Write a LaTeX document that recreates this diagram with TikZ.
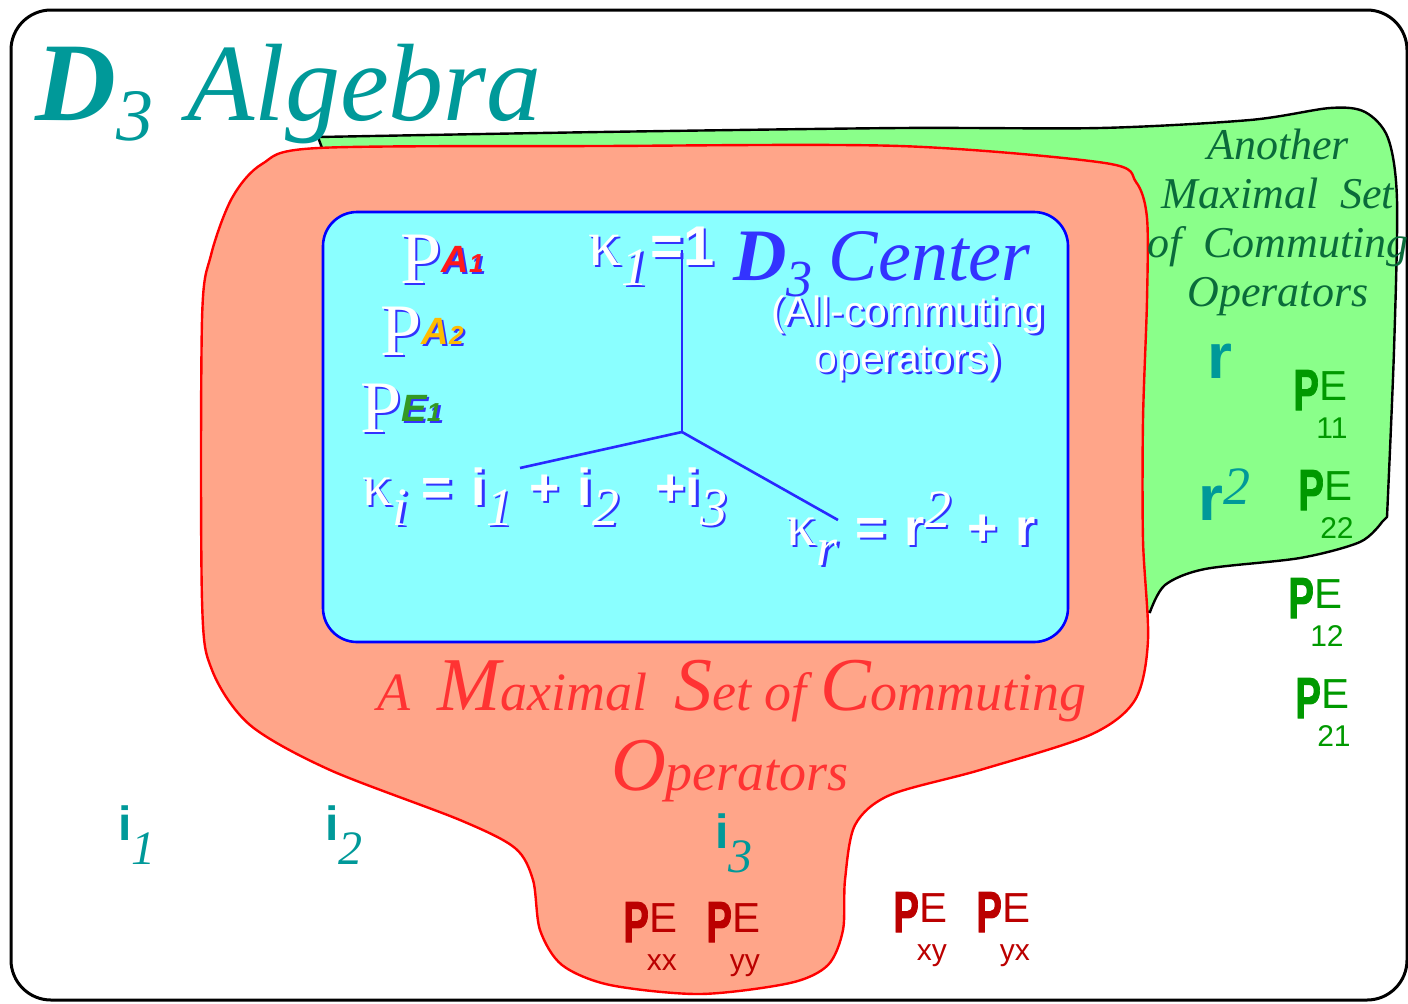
\documentclass[tikz,border=0pt]{standalone}
\usepackage{fontspec}
\setmainfont{Liberation Serif}
\setsansfont{Liberation Sans}
\newfontfamily\heavyP[FakeBold=1.8]{Liberation Sans Bold}
\usepackage{graphicx}
\definecolor{salmonfill}{HTML}{FFA589}
\definecolor{greenfill}{HTML}{8AFF8A}
\definecolor{cyanfill}{HTML}{8AFFFF}
\definecolor{tealtxt}{HTML}{009999}
\definecolor{setgreen}{HTML}{0A6B3A}
\definecolor{pegreen}{HTML}{009900}
\definecolor{pered}{HTML}{BB0000}
\definecolor{setred}{HTML}{FF3333}
\definecolor{centerblue}{HTML}{3333FF}
\definecolor{shadeblue}{HTML}{3333FF}
\definecolor{irrepA}{HTML}{FF1A1A}
\definecolor{irrepB}{HTML}{FFBB00}
\definecolor{irrepE}{HTML}{339922}
\newcommand{\Sz}[1]{\fontsize{#1}{#1}\selectfont}
% white text with a blue drop shadow
\newcommand{\Shd}[2][white]{\rlap{\kern1.2pt\raisebox{-1.2pt}{\color{shadeblue}#2}}{\color{#1}#2}}
\newcommand{\Sb}[1]{\raisebox{-10pt}{\Shd{\Sz{27}\itshape #1}}}
\newcommand{\PE}[1]{{\sffamily\scalebox{0.66}[1]{\heavyP\Sz{29}P}\kern0.5pt\raisebox{5pt}{\Sz{21}E}\llap{\makebox[16pt][c]{\raisebox{-14pt}{\Sz{15}#1}}}}}
\newcommand{\Ii}[1]{{\sffamily\bfseries\Sz{24}i}\raisebox{-12pt}{\Sz{24}\itshape #1}}

\begin{document}
\begin{tikzpicture}[x=0.5pt,y=-0.5pt,
  lbl/.style={anchor=base west,inner sep=0pt},
  spoke/.style={centerblue!80!blue,line width=1.3pt}]
\useasboundingbox (0,0) rectangle (1408,1003);
\draw[line width=1.5pt,rounded corners=20pt] (11,10) rectangle (1407,1000);
% the other maximal set, mostly hidden behind the red one
\draw[fill=greenfill,line width=1.2pt]
  plot[smooth] coordinates {(318,137) (600,132) (900,128) (1100,128) (1250,120) (1330,108) (1365,112) (1388,138) (1397,200) (1394,350) (1387,517)}
  -- (1382,522)
  -- plot[smooth] coordinates {(1382,522) (1360,542) (1300,558) (1205,569) (1165,585) (1150,612)}
  -- (1000,600) -- (330,170) -- cycle;
\draw[fill=salmonfill,draw=red,line width=1.2pt]
  plot[smooth cycle] coordinates {(318,148) (600,146) (900,146) (1105,163) (1136,182) (1147,218) (1147,300) (1143,420) (1143,540) (1148,640) (1135,700) (1090,735) (980,770) (890,795) (855,825) (845,880) (843,930) (828,965) (790,983) (700,994) (610,985) (562,965) (540,930) (533,880) (515,848) (460,820) (330,770) (250,725) (212,670) (202,600) (202,320) (211,255) (232,198) (262,164)};
\draw[fill=cyanfill,draw=blue,line width=1.3pt,rounded corners=17pt] (323,212) rectangle (1068,642);
\coordinate (ktop) at (682,250);
\coordinate (hub) at (682,432);
\coordinate (kiend) at (520,468);
\coordinate (krend) at (838,520);
\draw[spoke] (ktop) -- (hub);
\draw[spoke] (hub) -- (kiend);
\draw[spoke] (hub) -- (krend);

\node[lbl,text=tealtxt] (title) at (35,120) {{\Sz{56}\bfseries\itshape D}\raisebox{-10pt}{\Sz{37}\itshape 3}\hspace{17pt}{\Sz{55}\itshape Algebra}};
\node[lbl,text=centerblue] (center) at (733,280) {{\Sz{37}\bfseries\itshape D}\raisebox{-8pt}{\Sz{26}\itshape 3}\hspace{8pt}{\Sz{37}\itshape Center}};
\node[anchor=north,inner sep=0pt,align=center,font=\sffamily\fontsize{20.5}{23.5}\selectfont] (allcomm) at (908,295) {\Shd{(All-commuting}\\\Shd{operators)}};
\node[lbl] (pa1) at (400,283) {\Shd{\Sz{37}P}\raisebox{5.5pt}{\Shd[irrepA]{\sffamily\bfseries\itshape\Sz{19}A\Sz{13}1}}};
\node[lbl] (pa2) at (380,355) {\Shd{\Sz{37}P}\raisebox{5.5pt}{\Shd[irrepB]{\sffamily\bfseries\itshape\Sz{19}A\Sz{13}2}}};
\node[lbl] (pe1) at (360,432) {\Shd{\Sz{37}P}\raisebox{5.5pt}{\Shd[irrepE]{\sffamily\bfseries\itshape\Sz{19}E\Sz{13}1}}};
\node[lbl] (kone) at (588,265) {\Shd{\Sz{33}κ}\Sb{1}\hspace{1pt}\Shd{\sffamily\bfseries\Sz{28}=1}};
\node[lbl] (kclass) at (362,505) {\Shd{\Sz{30}κ}\Sb{i}\hspace{7pt}\Shd{\sffamily\bfseries\Sz{26}=\hspace{10pt}i}\Sb{1}\hspace{8pt}\Shd{\sffamily\bfseries\Sz{26}+\hspace{9pt}i}\Sb{2}\hspace{18pt}\Shd{\sffamily\bfseries\Sz{26}+i}\Sb{3}};
\node[lbl] (krot) at (786,545) {\Shd{\Sz{30}κ}\Sb{r}\hspace{9pt}\Shd{\sffamily\bfseries\Sz{26}=\hspace{9pt}r}\raisebox{9pt}{\Shd{\Sz{27}\itshape 2}}\hspace{8pt}\Shd{\sffamily\bfseries\Sz{26}+\hspace{9pt}r}};

\node[anchor=base,inner sep=0pt,text=setred,font=\itshape\Sz{27}] (redset) at (732,710) {A\ \ {\Sz{38}M}aximal\ \ {\Sz{38}S}et of\ {\Sz{38}C}ommuting};
\node[anchor=base,inner sep=0pt,text=setred,font=\itshape\Sz{27}] (redops) at (730,790) {{\Sz{38}O}perators};
\node[anchor=north,inner sep=0pt,align=center,text=setgreen,font=\itshape\fontsize{22}{24.5}\selectfont] (greenset) at (1278,129) {Another\\Maximal\ \ Set\\of\ \ Commuting\\Operators};

\node[lbl,text=tealtxt] (ione) at (118,840) {\Ii{1}};
\node[lbl,text=tealtxt] (itwo) at (325,840) {\Ii{2}};
\node[lbl,text=tealtxt] (ithree) at (715,848) {\Ii{3}};
\node[lbl,text=tealtxt] (rone) at (1207,378) {\sffamily\bfseries\Sz{32}r};
\node[lbl,text=tealtxt] (rtwo) at (1198,520) {{\sffamily\bfseries\Sz{32}r}\raisebox{8pt}{\Sz{27}\itshape 2}};

\node[lbl,text=pegreen] (pe11) at (1293,410) {\PE{11}};
\node[lbl,text=pegreen] (pe22) at (1298,510) {\PE{22}};
\node[lbl,text=pegreen] (pe12) at (1288,618) {\PE{12}};
\node[lbl,text=pegreen] (pe21) at (1295,718) {\PE{21}};
\node[lbl,text=pered] (pexx) at (623,942) {\PE{xx}};
\node[lbl,text=pered] (peyy) at (706,942) {\PE{yy}};
\node[lbl,text=pered] (pexy) at (893,932) {\PE{xy}};
\node[lbl,text=pered] (peyx) at (976,932) {\PE{yx}};
\end{tikzpicture}
\end{document}
